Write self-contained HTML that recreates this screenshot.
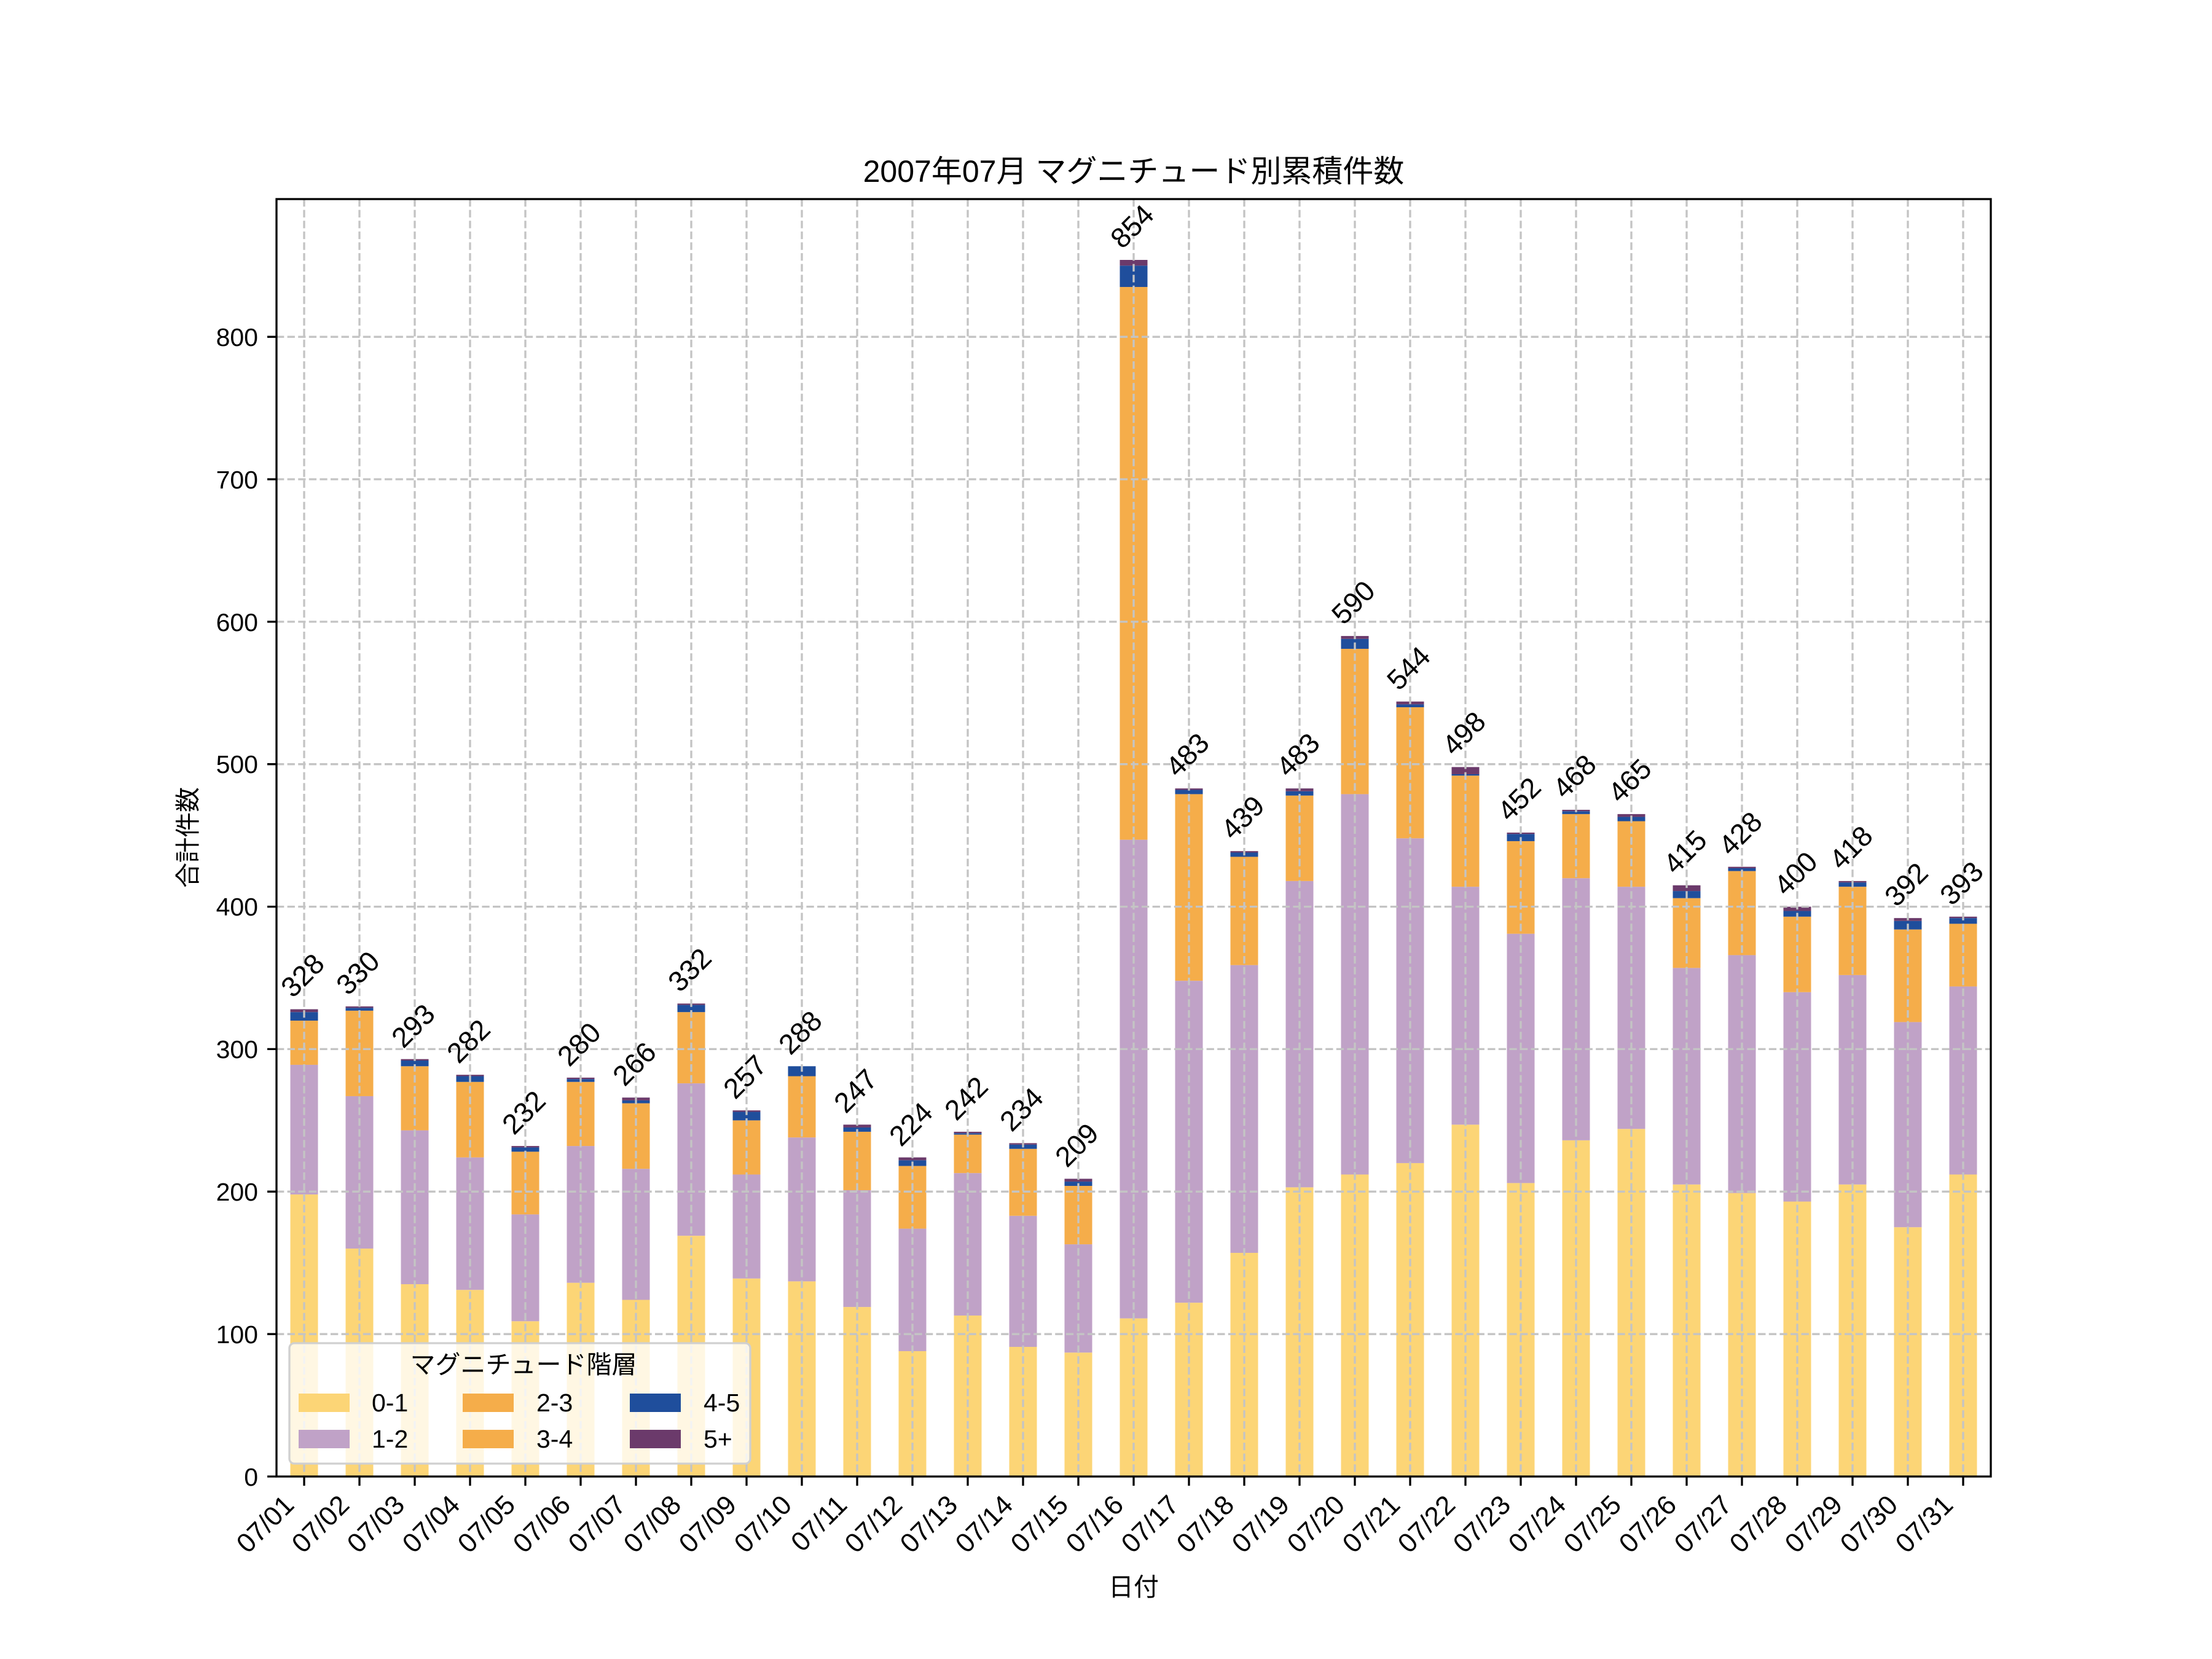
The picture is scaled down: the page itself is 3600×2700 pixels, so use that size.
<!DOCTYPE html>
<html><head><meta charset="utf-8"><style>html,body{margin:0;padding:0;background:#fff}svg{display:block}text{font-family:"Liberation Sans","Noto Sans CJK JP",sans-serif;fill:#000}</style></head>
<body>
<svg width="3600" height="2700" viewBox="0 0 3600 2700" xmlns="http://www.w3.org/2000/svg">
<rect width="3600" height="2700" fill="#fff"/>
<text x="1845" y="296" font-size="50" text-anchor="middle">2007年07月 マグニチュード別累積件数</text>
<g transform="translate(495,2403) scale(90,-2.3185)">
<g fill="#FCD576">
<rect x="-0.25" y="0" width="0.5" height="198"/><rect x="0.75" y="0" width="0.5" height="160"/><rect x="1.75" y="0" width="0.5" height="135"/><rect x="2.75" y="0" width="0.5" height="131"/><rect x="3.75" y="0" width="0.5" height="109"/><rect x="4.75" y="0" width="0.5" height="136"/><rect x="5.75" y="0" width="0.5" height="124"/><rect x="6.75" y="0" width="0.5" height="169"/><rect x="7.75" y="0" width="0.5" height="139"/><rect x="8.75" y="0" width="0.5" height="137"/><rect x="9.75" y="0" width="0.5" height="119"/><rect x="10.75" y="0" width="0.5" height="88"/><rect x="11.75" y="0" width="0.5" height="113"/><rect x="12.75" y="0" width="0.5" height="91"/><rect x="13.75" y="0" width="0.5" height="87"/><rect x="14.75" y="0" width="0.5" height="111"/><rect x="15.75" y="0" width="0.5" height="122"/><rect x="16.75" y="0" width="0.5" height="157"/><rect x="17.75" y="0" width="0.5" height="203"/><rect x="18.75" y="0" width="0.5" height="212"/><rect x="19.75" y="0" width="0.5" height="220"/><rect x="20.75" y="0" width="0.5" height="247"/><rect x="21.75" y="0" width="0.5" height="206"/><rect x="22.75" y="0" width="0.5" height="236"/><rect x="23.75" y="0" width="0.5" height="244"/><rect x="24.75" y="0" width="0.5" height="205"/><rect x="25.75" y="0" width="0.5" height="199"/><rect x="26.75" y="0" width="0.5" height="193"/><rect x="27.75" y="0" width="0.5" height="205"/><rect x="28.75" y="0" width="0.5" height="175"/><rect x="29.75" y="0" width="0.5" height="212"/>
</g>
<g fill="#C0A2C7">
<rect x="-0.25" y="198" width="0.5" height="91"/><rect x="0.75" y="160" width="0.5" height="107"/><rect x="1.75" y="135" width="0.5" height="108"/><rect x="2.75" y="131" width="0.5" height="93"/><rect x="3.75" y="109" width="0.5" height="75"/><rect x="4.75" y="136" width="0.5" height="96"/><rect x="5.75" y="124" width="0.5" height="92"/><rect x="6.75" y="169" width="0.5" height="107"/><rect x="7.75" y="139" width="0.5" height="73"/><rect x="8.75" y="137" width="0.5" height="101"/><rect x="9.75" y="119" width="0.5" height="82"/><rect x="10.75" y="88" width="0.5" height="86"/><rect x="11.75" y="113" width="0.5" height="100"/><rect x="12.75" y="91" width="0.5" height="92"/><rect x="13.75" y="87" width="0.5" height="76"/><rect x="14.75" y="111" width="0.5" height="336"/><rect x="15.75" y="122" width="0.5" height="226"/><rect x="16.75" y="157" width="0.5" height="202"/><rect x="17.75" y="203" width="0.5" height="215"/><rect x="18.75" y="212" width="0.5" height="267"/><rect x="19.75" y="220" width="0.5" height="228"/><rect x="20.75" y="247" width="0.5" height="167"/><rect x="21.75" y="206" width="0.5" height="175"/><rect x="22.75" y="236" width="0.5" height="184"/><rect x="23.75" y="244" width="0.5" height="170"/><rect x="24.75" y="205" width="0.5" height="152"/><rect x="25.75" y="199" width="0.5" height="167"/><rect x="26.75" y="193" width="0.5" height="147"/><rect x="27.75" y="205" width="0.5" height="147"/><rect x="28.75" y="175" width="0.5" height="144"/><rect x="29.75" y="212" width="0.5" height="132"/>
</g>
<g fill="#F5AD4A">
<rect x="-0.25" y="289" width="0.5" height="31"/><rect x="0.75" y="267" width="0.5" height="60"/><rect x="1.75" y="243" width="0.5" height="45"/><rect x="2.75" y="224" width="0.5" height="53"/><rect x="3.75" y="184" width="0.5" height="44"/><rect x="4.75" y="232" width="0.5" height="45"/><rect x="5.75" y="216" width="0.5" height="46"/><rect x="6.75" y="276" width="0.5" height="50"/><rect x="7.75" y="212" width="0.5" height="38"/><rect x="8.75" y="238" width="0.5" height="43"/><rect x="9.75" y="201" width="0.5" height="41"/><rect x="10.75" y="174" width="0.5" height="44"/><rect x="11.75" y="213" width="0.5" height="27"/><rect x="12.75" y="183" width="0.5" height="47"/><rect x="13.75" y="163" width="0.5" height="41"/><rect x="14.75" y="447" width="0.5" height="388"/><rect x="15.75" y="348" width="0.5" height="131"/><rect x="16.75" y="359" width="0.5" height="76"/><rect x="17.75" y="418" width="0.5" height="60"/><rect x="18.75" y="479" width="0.5" height="102"/><rect x="19.75" y="448" width="0.5" height="92"/><rect x="20.75" y="414" width="0.5" height="78"/><rect x="21.75" y="381" width="0.5" height="65"/><rect x="22.75" y="420" width="0.5" height="45"/><rect x="23.75" y="414" width="0.5" height="46"/><rect x="24.75" y="357" width="0.5" height="49"/><rect x="25.75" y="366" width="0.5" height="59"/><rect x="26.75" y="340" width="0.5" height="53"/><rect x="27.75" y="352" width="0.5" height="62"/><rect x="28.75" y="319" width="0.5" height="65"/><rect x="29.75" y="344" width="0.5" height="44"/>
</g>
<g fill="#1F4E9C">
<rect x="-0.25" y="320" width="0.5" height="6"/><rect x="0.75" y="327" width="0.5" height="2"/><rect x="1.75" y="288" width="0.5" height="4"/><rect x="2.75" y="277" width="0.5" height="4"/><rect x="3.75" y="228" width="0.5" height="3"/><rect x="4.75" y="277" width="0.5" height="2"/><rect x="5.75" y="262" width="0.5" height="2"/><rect x="6.75" y="326" width="0.5" height="5"/><rect x="7.75" y="250" width="0.5" height="6"/><rect x="8.75" y="281" width="0.5" height="7"/><rect x="9.75" y="242" width="0.5" height="3"/><rect x="10.75" y="218" width="0.5" height="4"/><rect x="11.75" y="240" width="0.5" height="1"/><rect x="12.75" y="230" width="0.5" height="3"/><rect x="13.75" y="204" width="0.5" height="3"/><rect x="14.75" y="835" width="0.5" height="15"/><rect x="15.75" y="479" width="0.5" height="3"/><rect x="16.75" y="435" width="0.5" height="3"/><rect x="17.75" y="478" width="0.5" height="3"/><rect x="18.75" y="581" width="0.5" height="7"/><rect x="19.75" y="540" width="0.5" height="2"/><rect x="20.75" y="492" width="0.5" height="1"/><rect x="21.75" y="446" width="0.5" height="5"/><rect x="22.75" y="465" width="0.5" height="2"/><rect x="23.75" y="460" width="0.5" height="3"/><rect x="24.75" y="406" width="0.5" height="5"/><rect x="25.75" y="425" width="0.5" height="2"/><rect x="26.75" y="393" width="0.5" height="4"/><rect x="27.75" y="414" width="0.5" height="3"/><rect x="28.75" y="384" width="0.5" height="6"/><rect x="29.75" y="388" width="0.5" height="4"/>
</g>
<g fill="#6B3A6B">
<rect x="-0.25" y="326" width="0.5" height="2"/><rect x="0.75" y="329" width="0.5" height="1"/><rect x="1.75" y="292" width="0.5" height="1"/><rect x="2.75" y="281" width="0.5" height="1"/><rect x="3.75" y="231" width="0.5" height="1"/><rect x="4.75" y="279" width="0.5" height="1"/><rect x="5.75" y="264" width="0.5" height="2"/><rect x="6.75" y="331" width="0.5" height="1"/><rect x="7.75" y="256" width="0.5" height="1"/><rect x="9.75" y="245" width="0.5" height="2"/><rect x="10.75" y="222" width="0.5" height="2"/><rect x="11.75" y="241" width="0.5" height="1"/><rect x="12.75" y="233" width="0.5" height="1"/><rect x="13.75" y="207" width="0.5" height="2"/><rect x="14.75" y="850" width="0.5" height="4"/><rect x="15.75" y="482" width="0.5" height="1"/><rect x="16.75" y="438" width="0.5" height="1"/><rect x="17.75" y="481" width="0.5" height="2"/><rect x="18.75" y="588" width="0.5" height="2"/><rect x="19.75" y="542" width="0.5" height="2"/><rect x="20.75" y="493" width="0.5" height="5"/><rect x="21.75" y="451" width="0.5" height="1"/><rect x="22.75" y="467" width="0.5" height="1"/><rect x="23.75" y="463" width="0.5" height="2"/><rect x="24.75" y="411" width="0.5" height="4"/><rect x="25.75" y="427" width="0.5" height="1"/><rect x="26.75" y="397" width="0.5" height="3"/><rect x="27.75" y="417" width="0.5" height="1"/><rect x="28.75" y="390" width="0.5" height="2"/><rect x="29.75" y="392" width="0.5" height="1"/>
</g>
</g>
<g stroke="#c4c4c4" stroke-width="3.3" stroke-dasharray="12.3,5.3" fill="none">
<path d="M450 2171.2H3240M450 1939.3H3240M450 1707.4H3240M450 1475.6H3240M450 1243.7H3240M450 1011.9H3240M450 780H3240M450 548.2H3240"/>
<path d="M495 324V2403M585 324V2403M675 324V2403M765 324V2403M855 324V2403M945 324V2403M1035 324V2403M1125 324V2403M1215 324V2403M1305 324V2403M1395 324V2403M1485 324V2403M1575 324V2403M1665 324V2403M1755 324V2403M1845 324V2403M1935 324V2403M2025 324V2403M2115 324V2403M2205 324V2403M2295 324V2403M2385 324V2403M2475 324V2403M2565 324V2403M2655 324V2403M2745 324V2403M2835 324V2403M2925 324V2403M3015 324V2403M3105 324V2403M3195 324V2403"/>
</g>
<rect x="450" y="324" width="2790" height="2079" fill="none" stroke="#000" stroke-width="3.3"/>
<g stroke="#000" stroke-width="3.3">
<path d="M435 2403H450M435 2171.2H450M435 1939.3H450M435 1707.4H450M435 1475.6H450M435 1243.7H450M435 1011.9H450M435 780H450M435 548.2H450"/>
<path d="M495 2403v15M585 2403v15M675 2403v15M765 2403v15M855 2403v15M945 2403v15M1035 2403v15M1125 2403v15M1215 2403v15M1305 2403v15M1395 2403v15M1485 2403v15M1575 2403v15M1665 2403v15M1755 2403v15M1845 2403v15M1935 2403v15M2025 2403v15M2115 2403v15M2205 2403v15M2295 2403v15M2385 2403v15M2475 2403v15M2565 2403v15M2655 2403v15M2745 2403v15M2835 2403v15M2925 2403v15M3015 2403v15M3105 2403v15M3195 2403v15"/>
</g>
<g font-size="41" text-anchor="end">
<text x="420" y="2418">0</text><text x="420" y="2186">100</text><text x="420" y="1954">200</text><text x="420" y="1722">300</text><text x="420" y="1490">400</text><text x="420" y="1258">500</text><text x="420" y="1027">600</text><text x="420" y="795">700</text><text x="420" y="563">800</text>
</g>
<g font-size="44" text-anchor="end">
<text transform="translate(481,2452) rotate(-45)">07/01</text><text transform="translate(571,2452) rotate(-45)">07/02</text><text transform="translate(661,2452) rotate(-45)">07/03</text><text transform="translate(751,2452) rotate(-45)">07/04</text><text transform="translate(841,2452) rotate(-45)">07/05</text><text transform="translate(931,2452) rotate(-45)">07/06</text><text transform="translate(1021,2452) rotate(-45)">07/07</text><text transform="translate(1111,2452) rotate(-45)">07/08</text><text transform="translate(1201,2452) rotate(-45)">07/09</text><text transform="translate(1291,2452) rotate(-45)">07/10</text><text transform="translate(1381,2452) rotate(-45)">07/11</text><text transform="translate(1471,2452) rotate(-45)">07/12</text><text transform="translate(1561,2452) rotate(-45)">07/13</text><text transform="translate(1651,2452) rotate(-45)">07/14</text><text transform="translate(1741,2452) rotate(-45)">07/15</text><text transform="translate(1831,2452) rotate(-45)">07/16</text><text transform="translate(1921,2452) rotate(-45)">07/17</text><text transform="translate(2011,2452) rotate(-45)">07/18</text><text transform="translate(2101,2452) rotate(-45)">07/19</text><text transform="translate(2191,2452) rotate(-45)">07/20</text><text transform="translate(2281,2452) rotate(-45)">07/21</text><text transform="translate(2371,2452) rotate(-45)">07/22</text><text transform="translate(2461,2452) rotate(-45)">07/23</text><text transform="translate(2551,2452) rotate(-45)">07/24</text><text transform="translate(2641,2452) rotate(-45)">07/25</text><text transform="translate(2731,2452) rotate(-45)">07/26</text><text transform="translate(2821,2452) rotate(-45)">07/27</text><text transform="translate(2911,2452) rotate(-45)">07/28</text><text transform="translate(3001,2452) rotate(-45)">07/29</text><text transform="translate(3091,2452) rotate(-45)">07/30</text><text transform="translate(3181,2452) rotate(-45)">07/31</text>
</g>
<g font-size="46" text-anchor="middle" dominant-baseline="middle">
<text transform="translate(495,1590) rotate(-45)">328</text><text transform="translate(585,1586) rotate(-45)">330</text><text transform="translate(675,1672) rotate(-45)">293</text><text transform="translate(765,1697) rotate(-45)">282</text><text transform="translate(855,1813) rotate(-45)">232</text><text transform="translate(945,1702) rotate(-45)">280</text><text transform="translate(1035,1734) rotate(-45)">266</text><text transform="translate(1125,1581) rotate(-45)">332</text><text transform="translate(1215,1755) rotate(-45)">257</text><text transform="translate(1305,1683) rotate(-45)">288</text><text transform="translate(1395,1778) rotate(-45)">247</text><text transform="translate(1485,1832) rotate(-45)">224</text><text transform="translate(1575,1790) rotate(-45)">242</text><text transform="translate(1665,1808) rotate(-45)">234</text><text transform="translate(1755,1866) rotate(-45)">209</text><text transform="translate(1845,371) rotate(-45)">854</text><text transform="translate(1935,1231) rotate(-45)">483</text><text transform="translate(2025,1333) rotate(-45)">439</text><text transform="translate(2115,1231) rotate(-45)">483</text><text transform="translate(2205,983) rotate(-45)">590</text><text transform="translate(2295,1090) rotate(-45)">544</text><text transform="translate(2385,1196) rotate(-45)">498</text><text transform="translate(2475,1303) rotate(-45)">452</text><text transform="translate(2565,1266) rotate(-45)">468</text><text transform="translate(2655,1273) rotate(-45)">465</text><text transform="translate(2745,1389) rotate(-45)">415</text><text transform="translate(2835,1359) rotate(-45)">428</text><text transform="translate(2925,1424) rotate(-45)">400</text><text transform="translate(3015,1382) rotate(-45)">418</text><text transform="translate(3105,1442) rotate(-45)">392</text><text transform="translate(3195,1440) rotate(-45)">393</text>
</g>
<text font-size="41" text-anchor="middle" transform="translate(320,1363) rotate(-90)">合計件数</text>
<text x="1845" y="2597" font-size="41" text-anchor="middle">日付</text>
<rect x="471" y="2186" width="750" height="196" rx="8" fill="#fff" fill-opacity="0.8" stroke="#d0d0d0" stroke-width="3.3"/>
<text x="852" y="2235" font-size="41" text-anchor="middle">マグニチュード階層</text>
<rect x="486" y="2268" width="83" height="30" fill="#FCD576"/><text x="605" y="2297" font-size="41">0-1</text>
<rect x="486" y="2327" width="83" height="30" fill="#C0A2C7"/><text x="605" y="2356" font-size="41">1-2</text>
<rect x="753" y="2268" width="83" height="30" fill="#F5AD4A"/><text x="873" y="2297" font-size="41">2-3</text>
<rect x="753" y="2327" width="83" height="30" fill="#F5AD4A"/><text x="873" y="2356" font-size="41">3-4</text>
<rect x="1025" y="2268" width="83" height="30" fill="#1F4E9C"/><text x="1145" y="2297" font-size="41">4-5</text>
<rect x="1025" y="2327" width="83" height="30" fill="#6B3A6B"/><text x="1145" y="2356" font-size="41">5+</text>
</svg>
</body></html>
